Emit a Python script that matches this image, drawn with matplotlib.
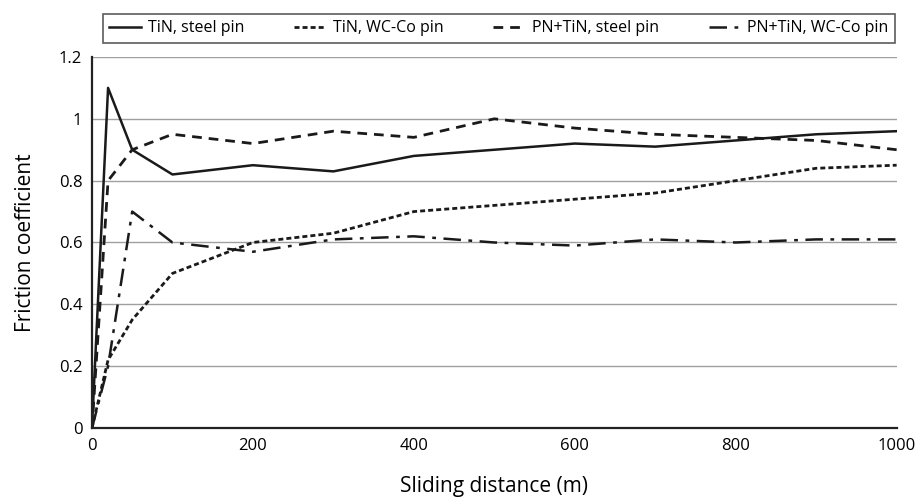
import matplotlib
matplotlib.use("Agg")
import matplotlib.pyplot as plt

plt.rcParams['font.family'] = ['Open Sans', 'DejaVu Sans']

distance = [0, 20, 50, 100, 200, 300, 400, 500, 600, 700, 800, 900, 1000]
tin_steel = [0, 1.10, 0.90, 0.82, 0.85, 0.83, 0.88, 0.90, 0.92, 0.91, 0.93, 0.95, 0.96]
tin_wcco = [0, 0.22, 0.35, 0.50, 0.60, 0.63, 0.70, 0.72, 0.74, 0.76, 0.80, 0.84, 0.85]
pntin_steel = [0, 0.80, 0.90, 0.95, 0.92, 0.96, 0.94, 1.00, 0.97, 0.95, 0.94, 0.93, 0.90]
pntin_wcco = [0, 0.20, 0.70, 0.60, 0.57, 0.61, 0.62, 0.60, 0.59, 0.61, 0.60, 0.61, 0.61]

labels = ["TiN, steel pin", "TiN, WC-Co pin", "PN+TiN, steel pin", "PN+TiN, WC-Co pin"]
yticks = [0, 0.2, 0.4, 0.6, 0.8, 1.0, 1.2]
yticklabels = ["0", "0.2", "0.4", "0.6", "0.8", "1", "1.2"]
xticks = [0, 200, 400, 600, 800, 1000]

fig = plt.figure(figsize=(9.17, 4.99), dpi=100)
ax = fig.add_axes([0.1003, 0.1423, 0.8775, 0.7435])

c = '#1a1a1a'
ax.plot(distance, tin_steel, color=c, lw=1.8, ls='-', label=labels[0])
ax.plot(distance, tin_wcco, color=c, lw=2.0, ls=(0, (1.8, 1.1)), label=labels[1])
ax.plot(distance, pntin_steel, color=c, lw=2.0, ls=(0, (3.5, 2.5)), label=labels[2])
ax.plot(distance, pntin_wcco, color=c, lw=1.8, ls=(0, (7, 3, 1.5, 3)), label=labels[3])

ax.set_xlim(0, 1000)
ax.set_ylim(0, 1.2)
ax.set_yticks(yticks)
ax.set_yticklabels(yticklabels)
ax.set_xticks(xticks)
ax.yaxis.grid(True, color='#a0a0a0', lw=1.0)
ax.set_axisbelow(True)
ax.tick_params(length=0, labelsize=12, pad=7)
for s in ['top', 'right']:
    ax.spines[s].set_visible(False)
for s in ['left', 'bottom']:
    ax.spines[s].set_color('#222222')
    ax.spines[s].set_linewidth(1.6)

ax.set_xlabel("Sliding distance (m)", fontsize=15, labelpad=16)
ax.set_ylabel("Friction coefficient", fontsize=15, labelpad=16)

leg = fig.legend(loc='center', bbox_to_anchor=(0.1123, 0.906, 0.8637, 0.074),
                 bbox_transform=fig.transFigure, mode='expand', ncol=4,
                 fancybox=False, edgecolor='#333333', fontsize=11.5,
                 handlelength=2.0, borderaxespad=0, handletextpad=0.4, columnspacing=0.6)
leg.get_frame().set_linewidth(1.2)

fig.savefig("out.png", dpi=100)
